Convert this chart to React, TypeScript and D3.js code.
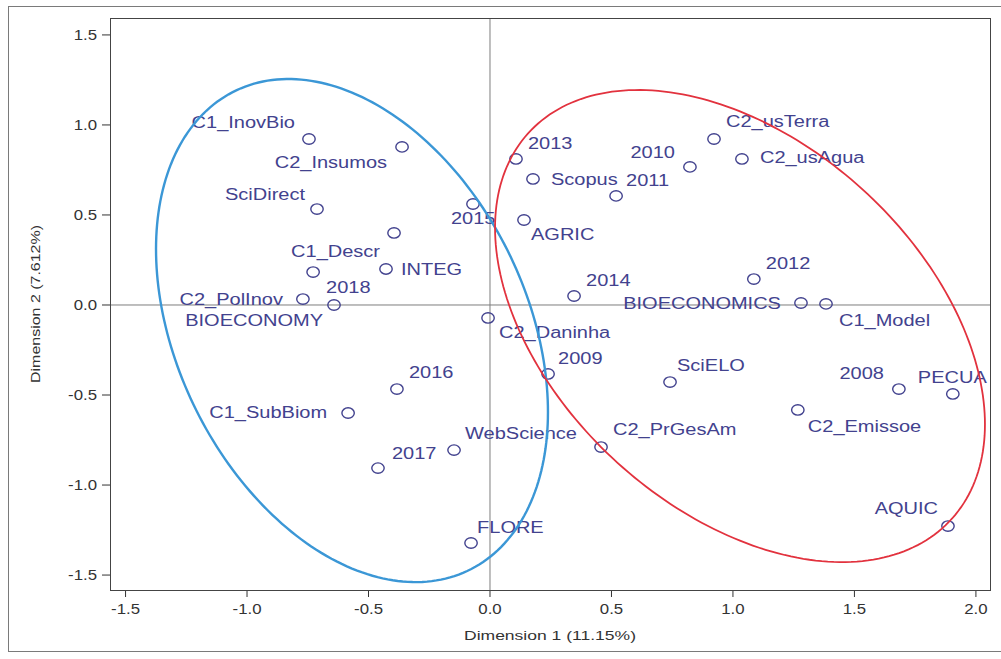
import React, { useEffect, useRef } from 'react';
import * as d3 from 'd3';

const W = 1001;
const H = 659;

// category coordinates on the first two dimensions
const pointNames = [
  'C1_InovBio', 'C2_Insumos', 'SciDirect', 'C1_Descr', 'INTEG', '2018', 'C2_PolInov', 'BIOECONOMY',
  '2015', 'C2_Daninha', '2013', 'Scopus', '2011', '2010', 'C2_usTerra', 'C2_usAgua', 'AGRIC',
  '2014', '2012', 'BIOECONOMICS', 'C1_Model', '2009', '2016', 'C1_SubBiom', '2017', 'WebScience',
  'FLORE', 'SciELO', 'C2_PrGesAm', 'C2_Emissoe', '2008', 'PECUA', 'AQUIC',
];
const dim1 = [
  -0.745, -0.362, -0.712, -0.395, -0.428, -0.728, -0.770, -0.642,
  -0.070, -0.008, 0.107, 0.177, 0.519, 0.823, 0.922, 1.037, 0.140,
  0.346, 1.086, 1.280, 1.383, 0.239, -0.383, -0.584, -0.461, -0.148,
  -0.078, 0.741, 0.457, 1.267, 1.683, 1.905, 1.885,
];
const dim2 = [
  0.922, 0.878, 0.533, 0.400, 0.200, 0.183, 0.033, 0.000,
  0.561, -0.072, 0.811, 0.700, 0.606, 0.767, 0.922, 0.811, 0.472,
  0.050, 0.144, 0.011, 0.006, -0.383, -0.467, -0.600, -0.906, -0.806,
  -1.322, -0.428, -0.789, -0.583, -0.467, -0.494, -1.228,
];

const xTicks = [-1.5, -1.0, -0.5, 0.0, 0.5, 1.0, 1.5, 2.0];
const yTicks = [-1.5, -1.0, -0.5, 0.0, 0.5, 1.0, 1.5];
const xTitle = 'Dimension 1 (11.15%)';
const yTitle = 'Dimension 2 (7.612%)';

// confidence ellipses: centre and covariance (xx, xy, yy)
const ellipseCentres = [[-0.568, -0.142], [1.029, -0.117]];
const ellipseCovs = [[0.6506, -0.3651, 1.952], [1.0165, -0.5503, 1.719]];
const ellipseColors = ['#3b97d6', '#e2323e'];
const ellipseWidths = [2.4, 1.8];

// label placement next to each marker: anchor, dx, dy (px)
const labelPlace: [string, number, number][] = [
  ['end', -14, -17], ['end', -15, 15], ['end', -12, -15], ['end', -14, 18], ['start', 15, 0],
  ['start', 13, 15], ['end', -20, 0], ['end', -11, 15], ['start', -22, 14], ['start', 11, 14],
  ['start', 12, -16], ['start', 18, 0], ['start', 10, -16], ['end', -15, -15], ['start', 12, -18],
  ['start', 18, -2], ['start', 7, 14], ['start', 12, -16], ['start', 12, -16], ['end', -20, 0],
  ['start', 13, 16], ['start', 10, -16], ['start', 12, -17], ['end', -21, -1], ['start', 14, -15],
  ['start', 11, -17], ['start', 6, -16], ['start', 7, -17], ['start', 12, -18], ['start', 10, 16],
  ['end', -15, -16], ['start', -35, -17], ['end', -10, -18],
];

const FONT = '"Liberation Sans", Arial, sans-serif';
const INK = '#42428e';
const fmt = (d: number) => d.toFixed(1);

export default function App() {
  const ref = useRef<SVGSVGElement>(null);

  useEffect(() => {
    const svg = d3.select(ref.current);
    svg.selectAll('*').remove();

    const x = d3.scaleLinear().domain([-1.564, 2.058]).range([110, 990]);
    const y = d3.scaleLinear().domain([-1.583, 1.594]).range([590, 18]);

    svg.append('rect').attr('width', W).attr('height', H).attr('fill', '#fff');
    // outer frame
    svg.append('rect')
      .attr('x', 8.5).attr('y', 6.5).attr('width', 1000).attr('height', 645)
      .attr('fill', 'none').attr('stroke', '#7a7a7a');

    // reference lines
    svg.append('line')
      .attr('x1', x(0)).attr('x2', x(0)).attr('y1', y.range()[1]).attr('y2', y.range()[0])
      .attr('stroke', '#7d7d7d').attr('stroke-width', 1);
    svg.append('line')
      .attr('x1', x.range()[0]).attr('x2', x.range()[1]).attr('y1', y(0)).attr('y2', y(0))
      .attr('stroke', '#7d7d7d').attr('stroke-width', 1);

    // axes
    const xAxis = svg.append('g').attr('transform', `translate(0,${y.range()[0]})`);
    xAxis.selectAll('line').data(xTicks).join('line')
      .attr('x1', d => x(d)).attr('x2', d => x(d)).attr('y1', 0).attr('y2', 7)
      .attr('stroke', '#333');
    xAxis.selectAll('text').data(xTicks).join('text')
      .attr('transform', d => `translate(${x(d)},24) scale(1.2,1)`)
      .attr('text-anchor', 'middle')
      .attr('font-family', FONT).attr('font-size', 14).attr('fill', '#333')
      .text(fmt);

    const yAxis = svg.append('g').attr('transform', `translate(${x.range()[0]},0)`);
    yAxis.selectAll('line').data(yTicks).join('line')
      .attr('x1', -8).attr('x2', 0).attr('y1', d => y(d)).attr('y2', d => y(d))
      .attr('stroke', '#333');
    yAxis.selectAll('text').data(yTicks).join('text')
      .attr('transform', d => `translate(-13,${y(d) + 5}) scale(1.2,1)`)
      .attr('text-anchor', 'end')
      .attr('font-family', FONT).attr('font-size', 14).attr('fill', '#333')
      .text(fmt);

    svg.append('text')
      .attr('x', (x.range()[0] + x.range()[1]) / 2).attr('y', 640)
      .attr('text-anchor', 'middle')
      .attr('font-family', FONT).attr('font-size', 13).attr('fill', '#333')
      .attr('textLength', 172).attr('lengthAdjust', 'spacingAndGlyphs')
      .text(xTitle);
    svg.append('text')
      .attr('transform', `translate(40,${(y.range()[0] + y.range()[1]) / 2}) rotate(-90)`)
      .attr('text-anchor', 'middle')
      .attr('font-family', FONT).attr('font-size', 13).attr('fill', '#333')
      .attr('textLength', 158).attr('lengthAdjust', 'spacingAndGlyphs')
      .text(yTitle);

    // plot frame
    svg.append('rect')
      .attr('x', x.range()[0] + 0.5).attr('y', y.range()[1] + 0.5)
      .attr('width', x.range()[1] - x.range()[0]).attr('height', y.range()[0] - y.range()[1])
      .attr('fill', 'none').attr('stroke', '#444');

    // markers and labels
    const pts = svg.append('g');
    pts.selectAll('ellipse').data(pointNames).join('ellipse')
      .attr('cx', (d, i) => x(dim1[i])).attr('cy', (d, i) => y(dim2[i]))
      .attr('rx', 6.2).attr('ry', 5.2)
      .attr('fill', 'none').attr('stroke', INK).attr('stroke-width', 1.4);
    pts.selectAll('text').data(pointNames).join('text')
      .attr('transform', (d, i) => {
        const [, dx, dy] = labelPlace[i];
        return `translate(${x(dim1[i]) + dx},${y(dim2[i]) + dy + 6}) scale(1.25,1)`;
      })
      .attr('text-anchor', (d, i) => labelPlace[i][0])
      .attr('font-family', FONT).attr('font-size', 16).attr('fill', INK)
      .text(d => d);

    // ellipses
    const line = d3.line().curve(d3.curveLinearClosed);
    ellipseCentres.forEach((c, k) => {
      const [sxx, sxy, syy] = ellipseCovs[k];
      const l11 = Math.sqrt(sxx);
      const l21 = sxy / l11;
      const l22 = Math.sqrt(syy - l21 * l21);
      const ring = d3.range(0, 2 * Math.PI, Math.PI / 120).map(t => [
        x(c[0] + l11 * Math.cos(t)),
        y(c[1] + l21 * Math.cos(t) + l22 * Math.sin(t)),
      ] as [number, number]);
      svg.append('path')
        .attr('d', line(ring))
        .attr('fill', 'none')
        .attr('stroke', ellipseColors[k])
        .attr('stroke-width', ellipseWidths[k]);
    });
  }, []);

  return (
    <svg ref={ref} width={W} height={H} style={{ position: 'absolute', left: 0, top: 0 }} />
  );
}
